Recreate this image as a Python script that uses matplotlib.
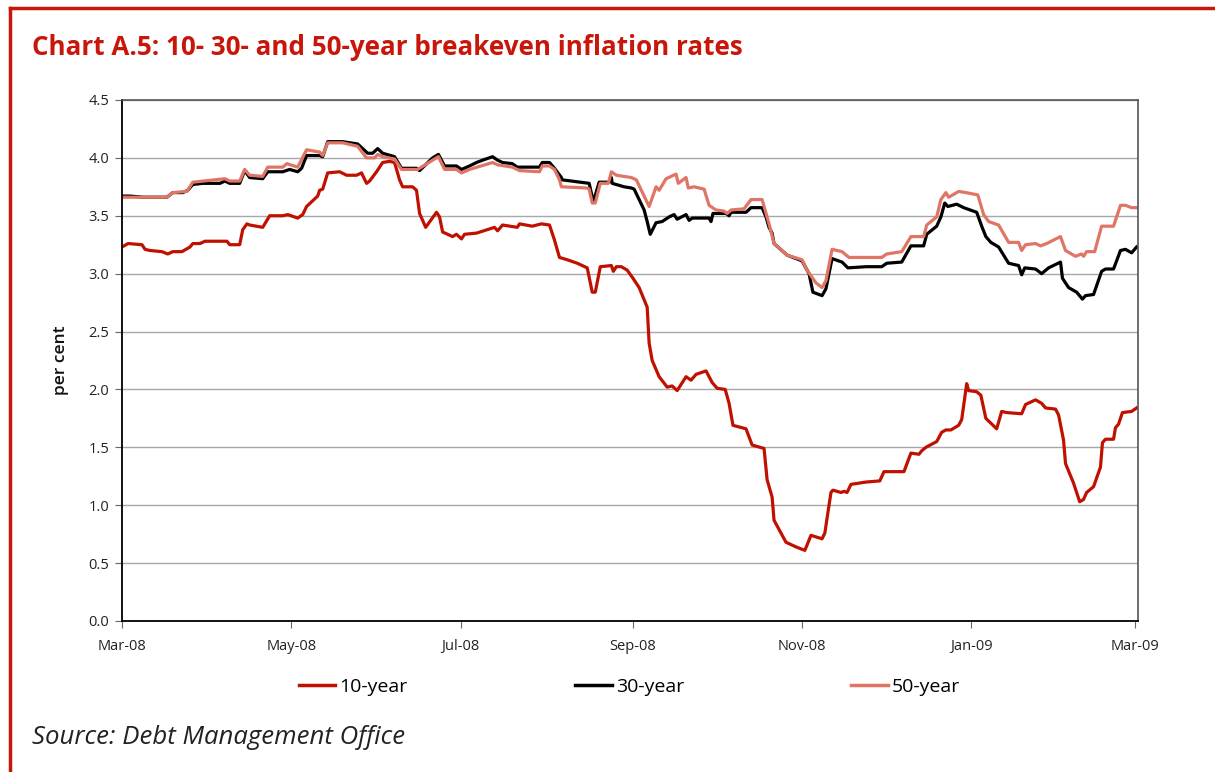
import pandas as pd
import matplotlib
matplotlib.use("Agg")
import matplotlib.pyplot as plt
import matplotlib.dates as mdates
from matplotlib.lines import Line2D

# days since 1 March 2008
days_10 = [0, 2.2, 7.2, 8.3, 10.1, 14.4, 16.5, 18.3, 21.6, 24.5, 25.5, 28.1, 29.9, 35.3, 37.8, 38.8,
           42.4, 43.5, 45.0, 46.0, 50.7, 53.2, 57.9, 59.7, 63.3, 65.1, 66.5, 68.7, 70.5, 71.2, 72.3,
           74.1, 78.4, 80.9, 84.5, 86.3, 88.1, 89.2, 91.7, 93.9, 96.4, 98.2, 100.0, 101.1, 104.7,
           106.1, 107.2, 109.4, 113.3, 114.4, 115.5, 119.1, 120.5, 122.3, 123.4, 127.7, 134.2,
           135.3, 137.1, 142.4, 143.2, 147.8, 151.1, 154.0, 155.8, 157.6, 160.4, 164.0, 167.6,
           169.4, 170.5, 172.3, 176.3, 177.0, 178.1, 179.9, 182.0, 183.8, 186.3, 189.2, 189.9,
           191.0, 193.5, 196.4, 198.2, 200.0, 203.2, 205.0, 206.8, 210.4, 212.6, 214.4, 217.3,
           218.7, 220.1, 224.8, 227.0, 231.3, 232.4, 234.2, 234.9, 239.2, 242.8, 246.0, 248.2,
           252.2, 253.2, 255.4, 256.1, 259.0, 260.1, 261.2, 262.6, 268.0, 273.0, 274.5, 281.7,
           284.2, 287.1, 288.1, 289.6, 293.5, 295.3, 296.8, 298.6, 301.4, 302.5, 304.3, 305.0,
           307.9, 309.4, 311.2, 315.1, 316.9, 318.7, 324.1, 325.5, 329.1, 331.3, 332.7, 336.3,
           337.4, 339.2, 339.9, 342.8, 345.0, 346.4, 347.5, 350.0, 352.5, 353.2, 354.3, 357.2,
           357.9, 359.0, 360.4, 363.7, 365.5]
y10 = [3.23, 3.26, 3.25, 3.21, 3.20, 3.19, 3.17, 3.19, 3.19, 3.23, 3.26, 3.26, 3.28, 3.28, 3.28, 3.25,
       3.25, 3.38, 3.43, 3.42, 3.40, 3.50, 3.50, 3.51, 3.48, 3.51, 3.58, 3.63, 3.67, 3.72, 3.73,
       3.87, 3.88, 3.85, 3.85, 3.87, 3.78, 3.80, 3.88, 3.96, 3.97, 3.96, 3.81, 3.75, 3.75,
       3.72, 3.52, 3.40, 3.53, 3.49, 3.36, 3.32, 3.34, 3.30, 3.34, 3.35, 3.40,
       3.37, 3.42, 3.40, 3.43, 3.41, 3.43, 3.42, 3.29, 3.14, 3.12, 3.09, 3.05,
       2.84, 2.84, 3.06, 3.07, 3.02, 3.06, 3.06, 3.03, 2.97, 2.88, 2.71, 2.40,
       2.25, 2.11, 2.02, 2.03, 1.99, 2.11, 2.08, 2.13, 2.16, 2.06, 2.01, 2.00,
       1.88, 1.69, 1.66, 1.52, 1.49, 1.22, 1.07, 0.87, 0.68, 0.64, 0.61, 0.74,
       0.71, 0.76, 1.11, 1.13, 1.11, 1.12, 1.11, 1.18, 1.20, 1.21, 1.29, 1.29,
       1.45, 1.44, 1.47, 1.50, 1.55, 1.63, 1.65, 1.65, 1.69, 1.74, 2.05, 1.99,
       1.98, 1.95, 1.75, 1.66, 1.81, 1.80, 1.79, 1.87, 1.91, 1.88, 1.84, 1.83,
       1.78, 1.56, 1.36, 1.19, 1.03, 1.05, 1.11, 1.16, 1.33, 1.54, 1.57, 1.57,
       1.67, 1.70, 1.80, 1.81, 1.84]

days_30 = [0, 2.9, 7.6, 16.2, 18.3, 21.9, 23.7, 25.5, 29.1, 35.3, 37.1, 38.8, 42.4, 44.2, 46.0,
           50.7, 52.5, 57.9, 60.4, 63.3, 64.7, 66.5, 71.2, 72.3, 74.1, 79.5, 84.9, 88.5, 90.3,
           92.1, 93.9, 98.2, 100.7, 106.1, 107.2, 111.9, 114.0, 116.2, 120.5, 122.3, 125.2,
           127.7, 129.9, 133.5, 135.3, 137.1, 140.6, 142.4, 150.4, 151.4, 154.0, 155.8, 158.3,
           158.6, 168.3, 169.8, 171.9, 175.5, 176.3, 176.6, 180.9, 183.5, 184.5, 186.3, 188.1,
           189.2, 190.3, 192.4, 194.6, 197.1, 198.9, 200.0, 203.2, 204.3, 205.4, 211.5, 212.2,
           212.9, 217.6, 218.7, 219.4, 224.8, 226.6, 230.6, 232.0, 233.1, 234.2, 234.9, 239.6,
           245.0, 247.5, 248.9, 252.2, 253.6, 255.8, 259.4, 261.5, 268.0, 273.7, 275.5, 280.9,
           284.2, 288.8, 289.9, 293.5, 295.0, 296.4, 297.5, 300.7, 303.2, 307.9, 309.7, 311.2,
           313.0, 315.8, 319.4, 323.0, 324.1, 325.2, 329.1, 331.3, 333.8, 338.1, 338.8, 341.0,
           343.9, 346.0, 347.1, 350.0, 352.9, 354.3, 357.2, 359.7, 361.5, 363.7, 365.5]
y30 = [3.67, 3.67, 3.66, 3.66, 3.70, 3.70, 3.72, 3.77, 3.78, 3.78, 3.80, 3.78, 3.78, 3.89, 3.83,
       3.82, 3.88, 3.88, 3.90, 3.88, 3.91, 4.02, 4.02, 4.01, 4.14, 4.14, 4.12, 4.04, 4.04,
       4.08, 4.04, 4.01, 3.91, 3.91, 3.89, 4.00, 4.03, 3.93, 3.93, 3.90, 3.93,
       3.96, 3.98, 4.01, 3.98, 3.96, 3.95, 3.92, 3.92, 3.96, 3.96, 3.91, 3.83,
       3.81, 3.78, 3.62, 3.79, 3.79, 3.83, 3.78, 3.75, 3.74, 3.73, 3.64, 3.55,
       3.45, 3.34, 3.44, 3.45, 3.49, 3.51, 3.47, 3.51, 3.46, 3.48, 3.48, 3.45,
       3.52, 3.52, 3.50, 3.53, 3.53, 3.57, 3.57, 3.49, 3.40, 3.35, 3.26, 3.16,
       3.11, 3.00, 2.84, 2.81, 2.87, 3.13, 3.10, 3.05, 3.06, 3.06, 3.09, 3.10,
       3.24, 3.24, 3.34, 3.41, 3.49, 3.61, 3.58, 3.60, 3.57, 3.53, 3.41, 3.32,
       3.27, 3.23, 3.09, 3.07, 2.99, 3.05, 3.04, 3.00, 3.05, 3.10, 2.96, 2.88,
       2.84, 2.78, 2.81, 2.82, 3.02, 3.04, 3.04, 3.20, 3.21, 3.18, 3.23]

days_50 = [0, 7.6, 16.2, 18.3, 23.4, 25.5, 37.1, 38.8, 42.4, 44.2, 46.0, 50.7, 52.5, 57.9, 59.4,
           63.3, 66.5, 71.2, 72.3, 74.1, 79.5, 84.9, 88.1, 91.0, 92.1, 93.9, 98.2, 100.7, 106.5,
           111.9, 114.0, 116.2, 120.5, 122.3, 125.2, 133.5, 135.3, 140.6, 143.2, 150.4, 151.4,
           154.0, 155.8, 157.6, 158.3, 167.3, 168.3, 169.4, 170.5, 172.3, 175.2, 176.3, 178.1,
           183.5, 185.3, 189.9, 192.4, 193.5, 196.0, 199.6, 200.4, 203.2, 204.0, 206.1, 209.7,
           211.5, 214.0, 216.9, 218.0, 219.4, 224.1, 226.6, 230.6, 233.1, 234.9, 239.6, 245.0,
           246.8, 250.0, 252.2, 253.6, 255.8, 259.4, 261.9, 273.7, 275.5, 280.9, 284.2, 288.8,
           289.9, 293.5, 295.0, 296.8, 297.8, 301.4, 304.0, 308.3, 310.4, 312.2, 315.8, 319.4,
           323.0, 324.1, 325.5, 329.1, 330.9, 333.1, 338.1, 339.9, 343.5, 345.7, 346.4, 347.5,
           350.4, 352.9, 357.2, 359.7, 361.5, 363.7, 365.5]
y50 = [3.66, 3.66, 3.66, 3.70, 3.71, 3.79, 3.82, 3.80, 3.80, 3.90, 3.85, 3.84, 3.92, 3.92, 3.95,
       3.92, 4.07, 4.05, 4.02, 4.13, 4.13, 4.10, 4.00, 4.00, 4.03, 4.01, 3.99, 3.90, 3.90,
       3.98, 4.01, 3.90, 3.90, 3.87, 3.90, 3.96, 3.94, 3.92, 3.89, 3.88, 3.93,
       3.93, 3.90, 3.81, 3.75, 3.74, 3.73, 3.61, 3.61, 3.78, 3.78, 3.88, 3.85,
       3.83, 3.81, 3.58, 3.75, 3.72, 3.82, 3.86, 3.78, 3.83, 3.74, 3.75, 3.73,
       3.59, 3.55, 3.54, 3.52, 3.55, 3.56, 3.64, 3.64, 3.43, 3.26, 3.16, 3.12,
       3.03, 2.92, 2.88, 2.94, 3.21, 3.19, 3.14, 3.14, 3.17, 3.19, 3.32, 3.32,
       3.42, 3.49, 3.64, 3.70, 3.66, 3.71, 3.70, 3.68, 3.51, 3.45, 3.42, 3.27,
       3.27, 3.20, 3.25, 3.26, 3.24, 3.26, 3.32, 3.20, 3.15, 3.17, 3.15, 3.19,
       3.19, 3.41, 3.41, 3.59, 3.59, 3.57, 3.57]

start = pd.Timestamp("2008-03-01")
d10 = start + pd.to_timedelta(days_10, unit="D")
d30 = start + pd.to_timedelta(days_30, unit="D")
d50 = start + pd.to_timedelta(days_50, unit="D")

red = "#c8160a"
dark_red = "#c01000"
pink = "#e07565"

fig = plt.figure(figsize=(12.15, 7.72), dpi=100)
ax = fig.add_axes([0.1004, 0.1956, 0.8362, 0.6749])

ax.plot(d10, y10, color=dark_red, lw=2.3, label="10-year")
ax.plot(d30, y30, color="black", lw=2.3, label="30-year")
ax.plot(d50, y50, color=pink, lw=2.3, label="50-year")

ax.set_ylim(0, 4.5)
ax.set_yticks([i * 0.5 for i in range(10)])
ax.yaxis.set_major_formatter(plt.FormatStrFormatter("%.1f"))
ax.set_xlim(pd.Timestamp("2008-03-01"), pd.Timestamp("2009-03-02"))
ax.xaxis.set_major_locator(mdates.MonthLocator(bymonth=[1, 3, 5, 7, 9, 11]))
ax.xaxis.set_major_formatter(mdates.DateFormatter("%b-%y"))

ax.grid(axis="y", color="#a8a8a8", lw=1)
ax.set_axisbelow(True)
for s in ["top", "right"]:
    ax.spines[s].set_color("#555555")
    ax.spines[s].set_linewidth(1.2)
for s in ["left", "bottom"]:
    ax.spines[s].set_color("black")
    ax.spines[s].set_linewidth(1.3)
ax.tick_params(axis="y", direction="out", length=5, color="#666666", labelsize=10.5,
               labelcolor="#222222", pad=4)
ax.tick_params(axis="x", direction="out", length=5, color="#666666", labelsize=10.5,
               labelcolor="#222222", pad=8)
for lab in ax.get_xticklabels() + ax.get_yticklabels():
    lab.set_family("Open Sans")
ax.set_ylabel("per cent", fontsize=12.5, family="Open Sans", fontweight="semibold",
              color="#111111", labelpad=14)

handles = [Line2D([], [], color=dark_red, lw=2.5), Line2D([], [], color="black", lw=2.5),
           Line2D([], [], color=pink, lw=2.5)]
fig.legend(handles, ["10-year", "30-year", "50-year"], loc="center", ncol=3,
           bbox_to_anchor=(0.518, 0.11), frameon=False, handlelength=1.9, handletextpad=0.2,
           columnspacing=8.6, prop={"family": "Open Sans", "size": 14})

fig.text(0.026, 0.938, "Chart A.5: 10- 30- and 50-year breakeven inflation rates",
         color=red, fontsize=18.7, fontweight="bold", family="Open Sans", va="center")
fig.text(0.026, 0.045, "Source: Debt Management Office", fontsize=18.5, style="italic",
         family="Open Sans", color="#222222", va="center")

# red frame on top and left
fig.add_artist(Line2D([0.0085, 1.0], [0.99, 0.99], color=red, lw=2.5, transform=fig.transFigure))
fig.add_artist(Line2D([0.0085, 0.0085], [0.0, 0.99], color=red, lw=2.5, transform=fig.transFigure))

fig.savefig("out.png", dpi=100)
